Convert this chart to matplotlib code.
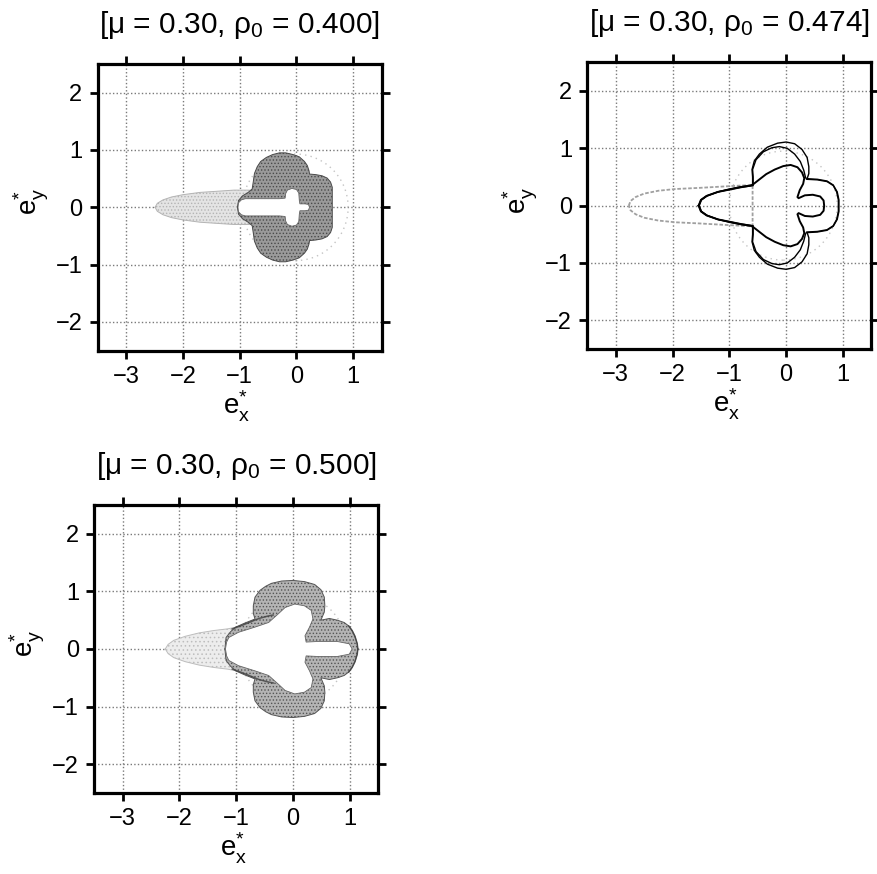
import matplotlib
matplotlib.use("Agg")
import matplotlib.pyplot as plt
from matplotlib.patches import Circle, Polygon
import numpy as np

plt.rcParams['font.family'] = ['Liberation Sans', 'DejaVu Sans']
plt.rcParams['mathtext.fontset'] = 'custom'
plt.rcParams['mathtext.rm'] = 'Liberation Sans'
plt.rcParams['mathtext.it'] = 'Liberation Sans'
plt.rcParams['hatch.linewidth'] = 0.6

titles = [r'[$\mathrm{\mu}$ = 0.30, $\mathrm{\rho_0}$ = 0.400]',
          r'[$\mathrm{\mu}$ = 0.30, $\mathrm{\rho_0}$ = 0.474]',
          r'[$\mathrm{\mu}$ = 0.30, $\mathrm{\rho_0}$ = 0.500]']
x_ticks = [-3, -2, -1, 0, 1]
y_ticks = [-2, -1, 0, 1, 2]
x_tick_labels = ['\u22123', '\u22122', '\u22121', '0', '1']
y_tick_labels = ['\u22122', '\u22121', '0', '1', '2']
x_limits = (-3.5, 1.5)
y_limits = (-2.5, 2.5)

# Upper halves (y >= 0) of the symmetric regions of the e* plane.
# rho0 = 0.400 : light tail, dense lobes, empty core
p1_tail_x = [-2.49, -2.45, -2.35, -2.20, -2.00, -1.70, -1.40, -1.10, -0.85, -0.70]
p1_tail_y = [0.00, 0.07, 0.13, 0.18, 0.22, 0.26, 0.28, 0.30, 0.30, 0.29]
p1_lobe_x = [-1.04, -1.02, -0.95, -0.85, -0.78, -0.76, -0.74, -0.69, -0.63, -0.53,
             -0.42, -0.30, -0.19, -0.06, 0.05, 0.14, 0.19, 0.22, 0.23, 0.34,
             0.45, 0.54, 0.60, 0.63, 0.63, 0.63]
p1_lobe_y = [0.00, 0.12, 0.20, 0.26, 0.32, 0.45, 0.59, 0.71, 0.80, 0.87,
             0.92, 0.95, 0.95, 0.92, 0.88, 0.80, 0.73, 0.64, 0.58, 0.57,
             0.55, 0.51, 0.44, 0.35, 0.20, 0.00]
p1_core_x = [-1.03, -1.02, -0.97, -0.90, -0.60, -0.30, -0.20, -0.19, -0.16, -0.08,
             0.00, 0.04, 0.05, 0.06, 0.15, 0.21, 0.23]
p1_core_y = [0.00, 0.08, 0.13, 0.15, 0.15, 0.15, 0.16, 0.24, 0.30, 0.33,
             0.31, 0.25, 0.12, 0.06, 0.06, 0.05, 0.00]

# rho0 = 0.474 : single orbits drawn as curves
p2_outer_a_x = [-1.54, -1.50, -1.40, -1.20, -1.00, -0.80, -0.59, -0.59, -0.60, -0.56,
                -0.47, -0.33, -0.15, 0.00, 0.15, 0.28, 0.37, 0.40, 0.40, 0.37,
                0.55, 0.72, 0.83, 0.90, 0.93, 0.93]
p2_outer_a_y = [0.00, 0.10, 0.17, 0.24, 0.29, 0.33, 0.36, 0.50, 0.63, 0.78,
                0.90, 1.02, 1.09, 1.11, 1.08, 0.98, 0.84, 0.68, 0.56, 0.47,
                0.46, 0.43, 0.36, 0.24, 0.10, 0.00]
p2_outer_b_x = [-1.53, -1.49, -1.39, -1.20, -1.00, -0.80, -0.58, -0.58, -0.59, -0.53,
                -0.40, -0.25, -0.12, 0.02, 0.15, 0.25, 0.31, 0.34, 0.36, 0.55,
                0.72, 0.83, 0.89, 0.92, 0.92]
p2_outer_b_y = [0.00, 0.10, 0.17, 0.24, 0.28, 0.32, 0.35, 0.50, 0.63, 0.80,
                0.94, 1.01, 1.03, 1.00, 0.90, 0.77, 0.62, 0.50, 0.46, 0.45,
                0.42, 0.35, 0.24, 0.10, 0.00]
p2_inner_x = [-1.54, -1.50, -1.40, -1.20, -1.00, -0.80, -0.62, -0.57, -0.48, -0.35,
              -0.20, -0.05, 0.08, 0.20, 0.28, 0.32, 0.30, 0.24, 0.20, 0.22,
              0.33, 0.47, 0.60, 0.66, 0.67]
p2_inner_y = [0.00, 0.10, 0.17, 0.24, 0.28, 0.32, 0.35, 0.38, 0.45, 0.55,
              0.63, 0.69, 0.71, 0.67, 0.58, 0.48, 0.38, 0.27, 0.15, 0.13,
              0.18, 0.19, 0.16, 0.09, 0.00]
p2_tail_x = [-2.77, -2.74, -2.65, -2.50, -2.25, -1.95, -1.53, -1.00, -0.59]
p2_tail_y = [0.00, 0.08, 0.15, 0.21, 0.26, 0.29, 0.31, 0.34, 0.36]

# rho0 = 0.500 : light tail, dense band, empty clover-shaped core
p3_tail_x = [-2.25, -2.20, -2.10, -1.90, -1.65, -1.40, -1.15, -0.95, -0.75, -0.62]
p3_tail_y = [0.00, 0.08, 0.15, 0.22, 0.28, 0.32, 0.35, 0.39, 0.45, 0.50]
p3_band_x = [-1.20, -1.18, -1.10, -1.01, -0.85, -0.67, -0.70, -0.70, -0.67, -0.58,
             -0.48, -0.38, -0.20, 0.00, 0.20, 0.38, 0.49, 0.55, 0.56, 0.55,
             0.49, 0.64, 0.78, 0.90, 0.98, 1.04, 1.09, 1.13, 1.14]
p3_band_y = [0.00, 0.20, 0.30, 0.38, 0.45, 0.52, 0.62, 0.75, 0.90, 1.02,
             1.09, 1.14, 1.18, 1.19, 1.17, 1.12, 1.03, 0.90, 0.75, 0.64,
             0.50, 0.53, 0.50, 0.46, 0.40, 0.32, 0.22, 0.09, 0.00]
p3_core_x = [-1.19, -1.17, -1.13, -0.96, -0.67, -0.43, -0.26, -0.14, 0.03, 0.20,
             0.32, 0.35, 0.29, 0.21, 0.23, 0.43, 0.78, 0.99, 1.04]
p3_core_y = [0.00, 0.12, 0.20, 0.29, 0.38, 0.46, 0.61, 0.72, 0.78, 0.75,
             0.67, 0.52, 0.38, 0.23, 0.12, 0.13, 0.13, 0.09, 0.00]
p3_fold_x = [-1.07, -0.90, -0.75, -0.60, -0.45, -0.35]
p3_fold_y = [0.35, 0.41, 0.47, 0.53, 0.57, 0.59]
p3_rim_x = [0.98, 1.04, 1.09, 1.13, 1.14]
p3_rim_y = [0.40, 0.32, 0.22, 0.09, 0.00]

ring_center = [(-0.02, 0.0), (-0.05, 0.0), (0.0, 0.0)]
ring_radius = [0.93, 0.95, 0.95]


def closed(xs, ys):
    """Join an upper half with its mirror image below the e_x axis."""
    xs = np.asarray(xs, float)
    ys = np.asarray(ys, float)
    return np.concatenate([xs, xs[::-1]]), np.concatenate([ys, -ys[::-1]])


def stipple(ax, xs, ys, face, dots, hatch, z, edge_lw=0.7):
    x, y = closed(xs, ys)
    ax.add_patch(Polygon(np.column_stack([x, y]), closed=True, facecolor=face,
                         edgecolor=dots, hatch=hatch, linewidth=0.0, zorder=z))
    ax.plot(x, y, color=dots, lw=edge_lw, zorder=z + 0.1)


def hole(ax, xs, ys, z):
    x, y = closed(xs, ys)
    ax.add_patch(Polygon(np.column_stack([x, y]), closed=True, facecolor='white',
                         edgecolor='#666666', linewidth=0.6, zorder=z))


def style(ax, title):
    ax.set_xlim(*x_limits)
    ax.set_ylim(*y_limits)
    ax.set_xticks(x_ticks)
    ax.set_yticks(y_ticks)
    ax.set_xticklabels(x_tick_labels)
    ax.set_yticklabels(y_tick_labels)
    ax.grid(True, linestyle=(0, (1, 1.6)), color='#7a7a7a', linewidth=1.0)
    ax.set_axisbelow(True)
    ax.tick_params(direction='out', length=6, width=2.0, labelsize=17,
                   top=True, right=True, pad=5)
    for s in ax.spines.values():
        s.set_linewidth(2.3)
    ax.text(0.5, 1.108, title, transform=ax.transAxes, ha='center',
            va='baseline', fontsize=21.5)
    ax.text(0.49, -0.222, r'$\mathrm{e^{*}_{x}}$', transform=ax.transAxes,
            ha='center', va='baseline', fontsize=20)
    ax.text(-0.213, 0.52, r'$\mathrm{e^{*}_{y}}$', transform=ax.transAxes,
            ha='center', va='baseline', rotation=90, rotation_mode='anchor',
            fontsize=20)


fig = plt.figure(figsize=(8.77, 8.74), dpi=100)
ax1 = fig.add_axes([0.1114, 0.5988, 0.3238, 0.328])
ax2 = fig.add_axes([0.6697, 0.6007, 0.3238, 0.328])
ax3 = fig.add_axes([0.1075, 0.0927, 0.3238, 0.3295])

for ax, c, r in zip([ax1, ax2, ax3], ring_center, ring_radius):
    ax.add_patch(Circle(c, r, fill=False, edgecolor='#c4c4c4', linestyle=(0, (1, 3)),
                        linewidth=1.0, zorder=1))

# rho0 = 0.400
stipple(ax1, p1_tail_x, p1_tail_y, '#e4e4e4', '#b4b4b4', '.....', 2)
stipple(ax1, p1_lobe_x, p1_lobe_y, '#9a9a9a', '#4a4a4a', '.....', 3)
hole(ax1, p1_core_x, p1_core_y, 4)

# rho0 = 0.474
x, y = closed(p2_tail_x, p2_tail_y)
ax2.plot(x, y, color='#a0a0a0', lw=1.3, linestyle=(0, (2, 1)), zorder=2)
for xs, ys, lw in [(p2_outer_a_x, p2_outer_a_y, 1.0), (p2_outer_b_x, p2_outer_b_y, 1.0),
                   (p2_inner_x, p2_inner_y, 1.4)]:
    x, y = closed(xs, ys)
    ax2.plot(x, y, color='black', lw=lw, zorder=3)

# rho0 = 0.500
stipple(ax3, p3_tail_x, p3_tail_y, '#ededed', '#bdbdbd', '....', 2)
stipple(ax3, p3_band_x, p3_band_y, '#b4b4b4', '#555555', '.....', 3)
hole(ax3, p3_core_x, p3_core_y, 4)
for xs, ys in [(p3_fold_x, p3_fold_y), (p3_rim_x, p3_rim_y)]:
    for sign in (1, -1):
        ax3.plot(xs, sign * np.asarray(ys), color='#404040', lw=1.1, alpha=0.8,
                 zorder=4.5)

for ax, t in zip([ax1, ax2, ax3], titles):
    style(ax, t)

fig.savefig('out.png', dpi=100)
